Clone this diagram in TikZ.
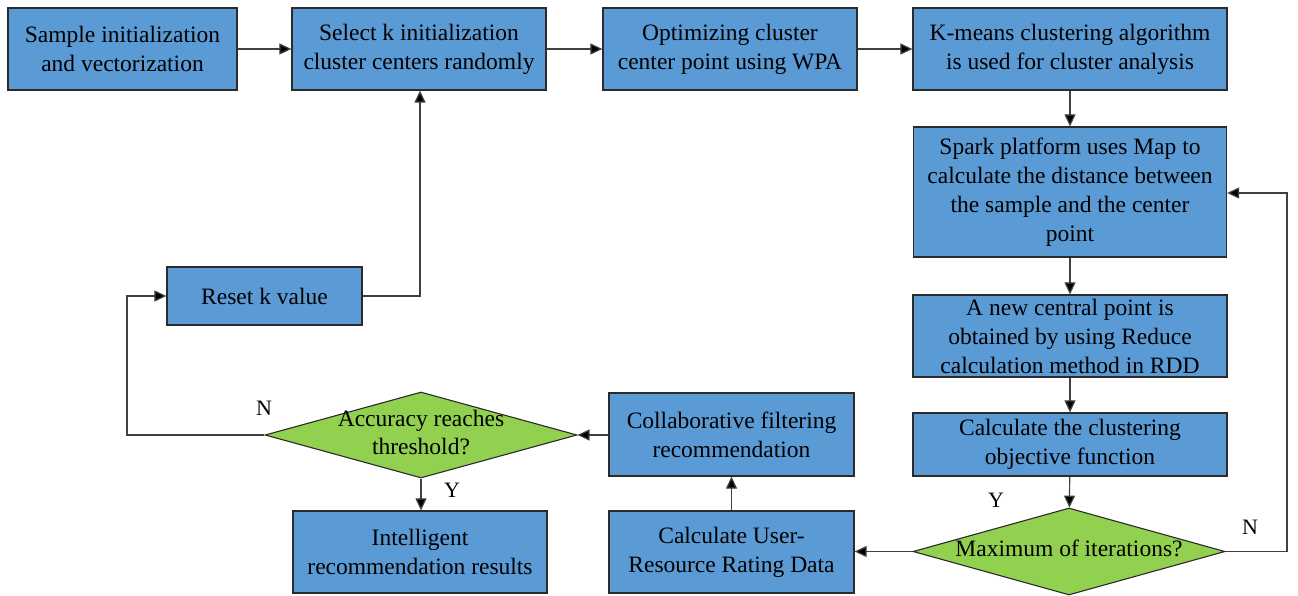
\documentclass[tikz,border=0pt]{standalone}
\usepackage{fontspec}
\setmainfont{Liberation Serif}
\usetikzlibrary{shapes.geometric,arrows.meta}
\definecolor{boxblue}{HTML}{5B9BD5}
\definecolor{dgreen}{HTML}{92D050}
\definecolor{edge}{HTML}{2B2B2B}
\definecolor{wire}{HTML}{404040}
\begin{document}
\begin{tikzpicture}[x=1pt,y=-1pt,
  box/.style={draw=edge, line width=1.3pt, fill=boxblue, rectangle, inner sep=0pt, align=center,
     font=\fontsize{23.5}{29}\selectfont},
  dec/.style={draw=edge, line width=1.1pt, fill=dgreen, diamond, inner sep=0pt},
  dectext/.style={align=center, inner sep=0pt, font=\fontsize{23.5}{28}\selectfont},
  conn/.style={draw=wire, line width=1.2pt, -{Triangle[length=12pt,width=11pt,fill=black]}},
  lab/.style={font=\fontsize{22}{26}\selectfont, inner sep=0pt}]
\useasboundingbox (0,0) rectangle (1298,596);
\node[box, minimum width=229pt, minimum height=82pt] (b1) at (122.5,49) {Sample initialization\\and vectorization};
\node[box, minimum width=254pt, minimum height=82pt] (b2) at (419,49) {Select k initialization\\cluster centers randomly};
\node[box, minimum width=254pt, minimum height=82pt] (b3) at (730,49) {Optimizing cluster\\center point using WPA};
\node[box, minimum width=314pt, minimum height=82pt] (b4) at (1070,49) {K-means clustering algorithm\\is used for cluster analysis};
\node[box, minimum width=313pt, minimum height=130pt] (b5) at (1070,192) {Spark platform uses Map to\\calculate the distance between\\the sample and the center\\point};
\node[box, minimum width=314pt, minimum height=82pt] (b6) at (1070,336) {A new central point is\\obtained by using Reduce\\calculation method in RDD};
\node[box, minimum width=314pt, minimum height=63pt] (b7) at (1070,444.5) {Calculate the clustering\\objective function};
\node[dec, minimum width=312pt, minimum height=87pt] (d1) at (1069,551.5) {};
\node[dectext] (d1t) at (1069,548) {Maximum of iterations?};
\node[box, minimum width=245pt, minimum height=82pt] (b8) at (731.5,552) {Calculate User-\\Resource Rating Data};
\node[box, minimum width=245pt, minimum height=83pt] (b9) at (731.5,434.5) {Collaborative filtering\\recommendation};
\node[dec, minimum width=312pt, minimum height=86pt] (d2) at (421,435) {};
\node[dectext] (d2t) at (421,433) {Accuracy reaches\\threshold?};
\node[box, minimum width=254pt, minimum height=82pt] (b10) at (420,552) {Intelligent\\recommendation results};
\node[box, minimum width=195pt, minimum height=58pt] (b11) at (264.5,296) {Reset k value};

\coordinate (r1) at (1287,551.5);
\coordinate (r2) at (1287,193);
\coordinate (l1) at (127,435);
\coordinate (l2) at (127,296);
\coordinate (u1) at (420,296);

\draw[conn] (b1) -- (b2);
\draw[conn] (b2) -- (b3);
\draw[conn] (b3) -- (b4);
\draw[conn] (b4) -- (b5);
\draw[conn] (b5) -- (b6);
\draw[conn] (b6) -- (b7);
\draw[conn] (b7) -- (d1);
\draw[conn] (d1.east) -- (r1) -- (r2) -- (b5.east |- r2);
\draw[conn] (d1.west) -- (b8.east |- d1.west);
\draw[conn] (b8) -- (b9);
\draw[conn] (b9.west |- d2.east) -- (d2.east);
\draw[conn] (d2.south) -- (b10.north -| d2.south);
\draw[conn] (d2.west) -- (l1) -- (l2) -- (b11.west);
\draw[conn] (b11.east) -- (u1) -- (b2.south -| u1);

\node[lab] (nN1) at (1250,527) {N};
\node[lab] (nY1) at (996,500) {Y};
\node[lab] (nY2) at (452,490) {Y};
\node[lab] (nN2) at (264,408) {N};
\end{tikzpicture}
\end{document}
